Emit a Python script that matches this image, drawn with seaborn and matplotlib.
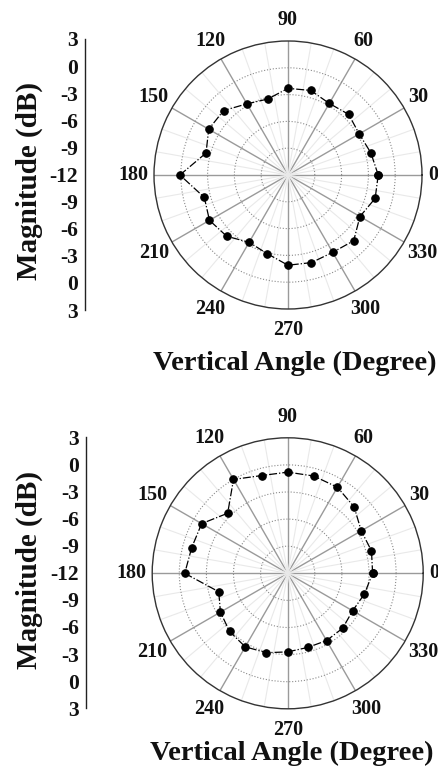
import numpy as np
import pandas as pd
import matplotlib
matplotlib.use("Agg")
import matplotlib.pyplot as plt
import seaborn as sns

# ---------------- data ----------------
angles_deg = [0, 15, 30, 45, 60, 75, 90, 105, 120, 135, 150, 165,
              180, 195, 210, 225, 240, 255, 270, 285, 300, 315, 330, 345]
top_db = [-1.9, -2.4, -2.8, -2.4, -2.75, -2.2, -2.3, -3.2, -2.8, -1.8, -1.75, -2.5,
          0.1, -2.3, -1.85, -2.3, -3.3, -2.9, -1.9, -1.85, -2.0, -1.6, -2.7, -1.9]
bottom_db = [-2.6, -2.4, -2.6, -1.6, -1.0, -0.85, -0.8, -0.8, 0.0, -2.6, -1.0, -1.0,
             -0.6, -4.1, -3.4, -2.9, -2.6, -2.9, -3.3, -3.5, -3.4, -3.4, -3.7, -3.2]
angle_ticks = [0, 30, 60, 90, 120, 150, 180, 210, 240, 270, 300, 330]
angle_labels = ['0', '30', '60', '90', '120', '150', '180', '210', '240', '270', '300', '330']
ring_ticks = [-9, -6, -3, 0]
r_min, r_max = -12, 3
mag_positions = [-15, -12, -9, -6, -3, 0, 3, 6, 9, 12, 15]
mag_labels = ['3', '0', '-3', '-6', '-9', '-12', '-9', '-6', '-3', '0', '3']
ylabel_text = 'Magnitude (dB)'
xlabel_text = 'Vertical Angle (Degree)'

# ---------------- style ----------------
sns.set_theme(style='white')
plt.rcParams['font.family'] = ['Liberation Serif', 'DejaVu Serif']
plt.rcParams['font.weight'] = 'bold'

W, H = 439, 771
fig = plt.figure(figsize=(W / 100, H / 100), dpi=100)
fig.patch.set_facecolor('white')


def px_box(x0, y0, x1, y1):
    return [x0 / W, 1 - y1 / H, (x1 - x0) / W, (y1 - y0) / H]


def draw_panel(db, polar_box, left_box, ylab_y, xlab_xy):
    ax = fig.add_axes(px_box(*polar_box), projection='polar')
    ax.set_facecolor('white')
    th = np.deg2rad(angles_deg + [angles_deg[0]])
    rr = list(db) + [db[0]]
    df = pd.DataFrame({'theta': th, 'r': rr})
    sns.lineplot(data=df, x='theta', y='r', ax=ax, sort=False, estimator=None,
                 color='black', linewidth=0.9, linestyle='-.',
                 marker='o', markersize=5.4, markeredgecolor='black',
                 markerfacecolor='black', zorder=5)
    ax.set_xlabel('')
    ax.set_ylabel('')
    ax.set_ylim(r_min, r_max)
    ax.set_yticks(ring_ticks)
    ax.set_yticklabels([])
    ax.set_xticks(np.deg2rad(angle_ticks))
    ax.set_xticklabels([])
    minor = [a for a in range(0, 360, 10) if a % 30 != 0]
    ax.set_xticks(np.deg2rad(minor), minor=True)
    ax.tick_params(axis='y', which='both', length=0)
    ax.tick_params(axis='x', which='major', length=0)
    ax.tick_params(axis='x', which='minor', direction='in', length=3, width=0.8,
                   color='#444444')
    ax.xaxis.grid(True, which='major', color='#9a9a9a', linewidth=1.0, linestyle='-')
    ax.xaxis.grid(True, which='minor', color='#e9e9e9', linewidth=0.8, linestyle='-')
    ax.yaxis.grid(True, which='major', color='#8a8a8a', linewidth=0.8, linestyle=':')
    ax.spines['polar'].set_color('#333333')
    ax.spines['polar'].set_linewidth(1.0)

    # angle labels outside the circle
    for a, lab in zip(angle_ticks, angle_labels):
        t = np.deg2rad(a)
        w = 10 * len(lab)
        ox = (6 + w / 2) * np.cos(t) * 0.72
        oy = (15 + 6) * np.sin(t) * 0.72
        ax.annotate(lab, xy=(t, r_max), xycoords='data', xytext=(ox, oy),
                    textcoords='offset points', ha='center', va='center',
                    fontsize=14.5, fontweight='bold', color='#111111',
                    annotation_clip=False)

    # left magnitude axis
    lax = fig.add_axes(px_box(*left_box))
    lax.set_facecolor('none')
    for s in ['top', 'right', 'bottom']:
        lax.spines[s].set_visible(False)
    lax.spines['left'].set_color('#222222')
    lax.spines['left'].set_linewidth(1.0)
    lax.set_xticks([])
    lax.set_ylim(mag_positions[0], mag_positions[-1])
    lax.set_yticks(mag_positions)
    lax.set_yticklabels(mag_labels)
    lax.tick_params(axis='y', direction='in', length=3.5, width=1.0, pad=5,
                    labelsize=15.5, colors='#111111')
    for lbl in lax.get_yticklabels():
        lbl.set_fontweight('bold')
    lax.set_ylabel(ylabel_text, fontsize=21, fontweight='bold', color='#111111', va='center')
    lax.yaxis.set_label_coords(29 / W, 1 - ylab_y / H, transform=fig.transFigure)

    fig.text(xlab_xy[0] / W, 1 - xlab_xy[1] / H, xlabel_text, ha='center', va='baseline',
             fontsize=20.5, fontweight='bold', color='#111111')


draw_panel(top_db, (154, 41, 422, 309), (85, 39, 85.3, 310), 181, (295, 370))
draw_panel(bottom_db, (152.2, 437.8, 423.2, 708.8), (86, 437.3, 86.3, 708.3), 570, (292, 760))

fig.savefig('out.png', dpi=100, facecolor='white')
